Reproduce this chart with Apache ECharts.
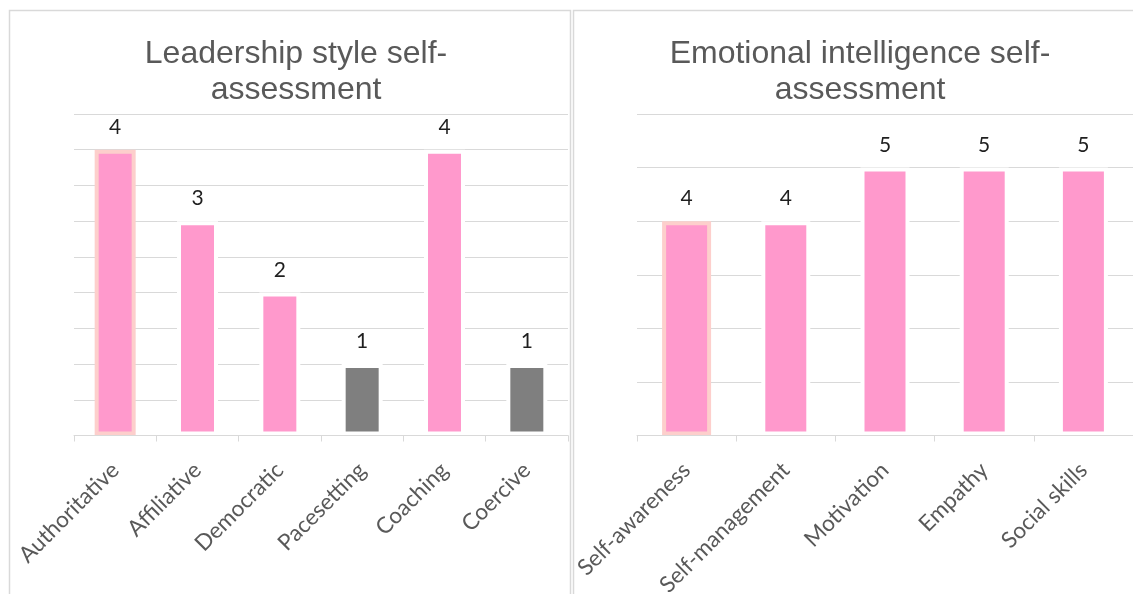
<!DOCTYPE html>
<html>
<head>
<meta charset="utf-8">
<title>Self-assessment</title>
<script src="https://cdn.jsdelivr.net/npm/echarts@6/dist/echarts.min.js"></script>
<style>
  html, body { margin: 0; padding: 0; background: #fff; }
  #chart { width: 1133px; height: 594px; }
</style>
</head>
<body>
<div id="chart"></div>
<script>
// Leadership style scores
const leaderCats = ['Authoritative', 'Affiliative', 'Democratic', 'Pacesetting', 'Coaching', 'Coercive'];
const leaderScores = [4, 3, 2, 1, 4, 1];

// Emotional intelligence scores
const eiCats = ['Self-awareness', 'Self-management', 'Motivation', 'Empathy', 'Social skills'];
const eiScores = [4, 4, 5, 5, 5];

// Value axis ranges
const leaderAxis = { max: 4.5, step: 0.5 };
const eiAxis = { max: 6, step: 1 };

// Styles for muted and outlined bars
const mutedCats = ['Pacesetting', 'Coercive'];
const outlinedCats = ['Authoritative', 'Self-awareness'];

const PINK = '#ff99cc';
const GREY = '#7f7f7f';
const OUTLINE = '#fdcfcc';
const GRID = '#d9d9d9';
const LABEL_FONT = 'Lato, "Open Sans", sans-serif';

function barData(cats, values) {
  return values.map((v, i) => ({
    value: v,
    itemStyle: {
      color: mutedCats.includes(cats[i]) ? GREY : PINK,
      borderColor: outlinedCats.includes(cats[i]) ? OUTLINE : '#ffffff',
      borderWidth: 4
    }
  }));
}

function xAxisFor(cats, gridIndex) {
  return {
    type: 'category',
    gridIndex,
    data: cats,
    z: 5,
    axisLine: { show: true, lineStyle: { color: GRID, width: 1 } },
    axisTick: { show: true, length: 6, lineStyle: { color: GRID, width: 1 } },
    axisLabel: {
      interval: 0,
      rotate: 45,
      margin: 31,
      color: '#595959',
      fontFamily: LABEL_FONT,
      fontSize: 22.5
    },
    splitLine: { show: false }
  };
}

function yAxisFor(range, gridIndex) {
  return {
    type: 'value',
    gridIndex,
    min: 0,
    max: range.max,
    interval: range.step,
    axisLine: { show: false },
    axisTick: { show: false },
    axisLabel: { show: false },
    splitLine: { show: true, lineStyle: { color: GRID, width: 1.2 } }
  };
}

function seriesFor(cats, values, idx, width) {
  return {
    type: 'bar',
    xAxisIndex: idx,
    yAxisIndex: idx,
    barWidth: width,
    data: barData(cats, values),
    label: {
      show: true,
      position: 'top',
      distance: 12,
      color: '#1f1f1f',
      fontFamily: LABEL_FONT,
      fontSize: 21
    }
  };
}

const titleStyle = {
  fontFamily: '"Liberation Sans", Arial, sans-serif',
  fontSize: 32,
  fontWeight: 'normal',
  color: '#595959',
  lineHeight: 36
};

const chart = echarts.init(document.getElementById('chart'), null, { renderer: 'canvas' });

chart.setOption({
  animation: false,
  backgroundColor: '#ffffff',
  title: [
    { text: 'Leadership style self-\nassessment', left: 291, top: 31, textAlign: 'center', textStyle: titleStyle },
    { text: 'Emotional intelligence self-\nassessment', left: 855, top: 31, textAlign: 'center', textStyle: titleStyle }
  ],
  graphic: [
    { type: 'rect', shape: { x: 9.5, y: 10.5, width: 561, height: 700 }, style: { fill: 'none', stroke: GRID, lineWidth: 1.5 }, silent: true },
    { type: 'rect', shape: { x: 573.5, y: 10.5, width: 600, height: 700 }, style: { fill: 'none', stroke: GRID, lineWidth: 1.5 }, silent: true }
  ],
  grid: [
    { left: 74, top: 114, width: 494, height: 321.5, containLabel: false, outerBoundsMode: 'none' },
    { left: 637, top: 114, width: 496, height: 321.5, containLabel: false, outerBoundsMode: 'none' }
  ],
  xAxis: [xAxisFor(leaderCats, 0), xAxisFor(eiCats, 1)],
  yAxis: [yAxisFor(leaderAxis, 0), yAxisFor(eiAxis, 1)],
  series: [
    seriesFor(leaderCats, leaderScores, 0, 41),
    seriesFor(eiCats, eiScores, 1, 49)
  ]
});
</script>
</body>
</html>
